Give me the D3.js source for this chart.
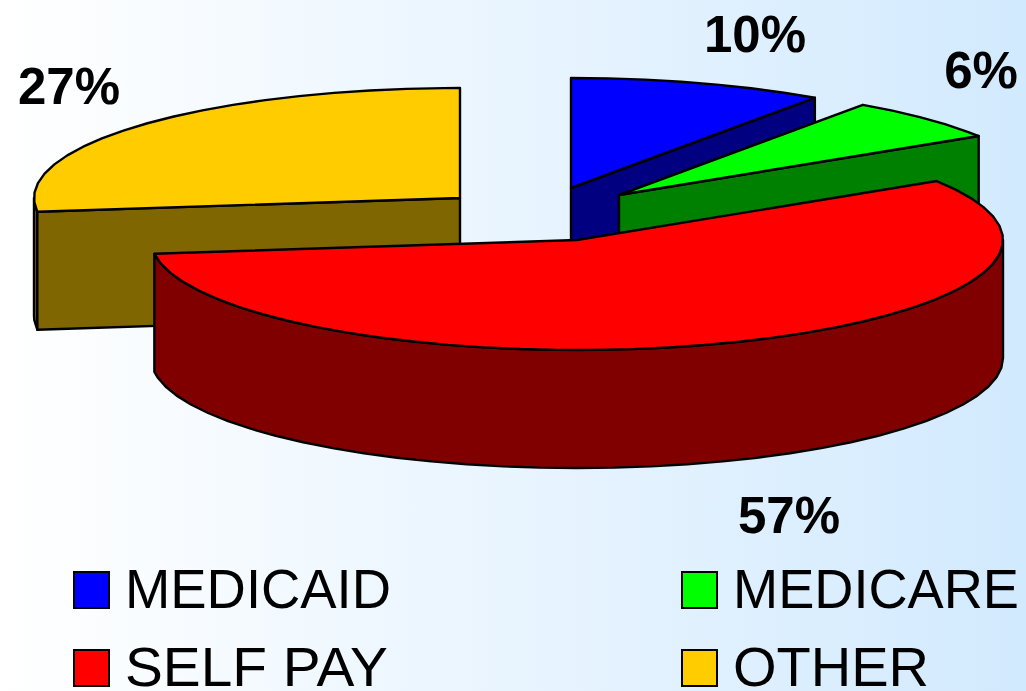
<!DOCTYPE html>
<html>
<head>
<meta charset="utf-8">
<script src="https://cdn.jsdelivr.net/npm/d3@7/dist/d3.min.js"></script>
<style>
html,body{margin:0;padding:0;overflow:hidden;background:#fff}
svg{display:block}
text{font-family:"Liberation Sans",Arial,sans-serif;fill:#000}
</style>
</head>
<body>
<svg id="chart" width="1026" height="691"></svg>
<script>
// Data
const categories = ["MEDICAID", "MEDICARE", "SELF PAY", "OTHER"];
const shares = [9.7, 6.3, 57, 27];
const shareLabels = ["10%", "6%", "57%", "27%"];

// Styles and layout
const topColors = ["#0000ff", "#00ff00", "#ff0000", "#ffcc00"];
const wallColors = ["#000080", "#008000", "#800000", "#806600"];
const sliceCenters = [[571, 188], [619, 195], [577, 240], [460, 198]];
const labelSpots = [[755, 52], [981, 88], [789, 533], [69, 104]];
const legendSpots = [[73, 608], [681, 608], [73, 686], [681, 686]];
const legendWidths = [266, 286, 263, 196];
const paintOrder = [3, 0, 1, 2];
const W = 1026, H = 691, RX = 426, RY = 110, DEPTH = 118, STEP = Math.PI / 36;

const svg = d3.select("#chart");
const defs = svg.append("defs");
const grad = defs.append("linearGradient").attr("id", "bg").attr("x1", 0).attr("x2", 1).attr("y1", 0).attr("y2", 0);
grad.append("stop").attr("offset", "0%").attr("stop-color", "#ffffff");
grad.append("stop").attr("offset", "100%").attr("stop-color", "#d2eafe");
svg.append("rect").attr("width", W).attr("height", H).attr("fill", "url(#bg)");

const pieAngles = d3.pie().sort(null).value(d => d).startAngle(0).endAngle(2 * Math.PI)(shares);
const px = d3.scaleLinear().domain([-1, 1]).range([-RX, RX]);
const py = d3.scaleLinear().domain([-1, 1]).range([-RY, RY]);
const line = d3.line().curve(d3.curveLinear);

function rimAngles(a0, a1) {
  const out = d3.range(a0, a1, STEP);
  out.push(a1);
  return out;
}
function rim(c, a) {
  return [c[0] + px(Math.sin(a)), c[1] + py(-Math.cos(a))];
}
const drop = p => [p[0], p[1] + DEPTH];
const front0 = Math.PI / 2, front1 = 3 * Math.PI / 2;

const pieG = svg.append("g").attr("stroke", "#000").attr("stroke-width", 2.4).attr("stroke-linejoin", "round");

paintOrder.forEach(i => {
  const s = pieAngles[i], c = sliceCenters[i];
  const g = pieG.append("g");
  // Outer wall: the part of the rim on the viewer's side
  // (the left sliver is the run from the cut edge round to the widest point)
  const w0 = Math.max(s.startAngle, front0), w1 = Math.min(s.endAngle, front1);
  if (w1 > w0) {
    const upper = rimAngles(w0, w1).map(a => rim(c, a));
    g.append("path").attr("fill", wallColors[i])
      .attr("d", line(upper.concat(upper.map(drop).reverse())) + "Z");
  }
  // Cut face that looks toward the viewer
  if (i !== 2) {
    const edgeAngle = i === 3 ? s.startAngle : s.endAngle;
    const edgeP = rim(c, edgeAngle);
    g.append("path").attr("fill", wallColors[i])
      .attr("d", line([c, edgeP, drop(edgeP), drop(c)]) + "Z");
  }
  // Top surface
  const top = [c].concat(rimAngles(s.startAngle, s.endAngle).map(a => rim(c, a)));
  g.append("path").attr("fill", topColors[i]).attr("d", line(top) + "Z");
});

// Percentage labels
svg.append("g").selectAll("text").data(shareLabels).join("text")
  .attr("x", (d, i) => labelSpots[i][0])
  .attr("y", (d, i) => labelSpots[i][1])
  .attr("text-anchor", "middle")
  .attr("font-size", 51)
  .attr("font-weight", "bold")
  .text(d => d);

// Legend
const lg = svg.append("g").selectAll("g").data(categories).join("g")
  .attr("transform", (d, i) => `translate(${legendSpots[i][0]},${legendSpots[i][1]})`);
lg.append("rect").attr("x", 1).attr("y", -36).attr("width", 35).attr("height", 36)
  .attr("fill", (d, i) => topColors[i]).attr("stroke", "#000").attr("stroke-width", 2);
lg.append("text").attr("x", 52).attr("y", 0).attr("font-size", 55)
  .attr("textLength", (d, i) => legendWidths[i])
  .attr("lengthAdjust", "spacingAndGlyphs")
  .text(d => d);
</script>
</body>
</html>
